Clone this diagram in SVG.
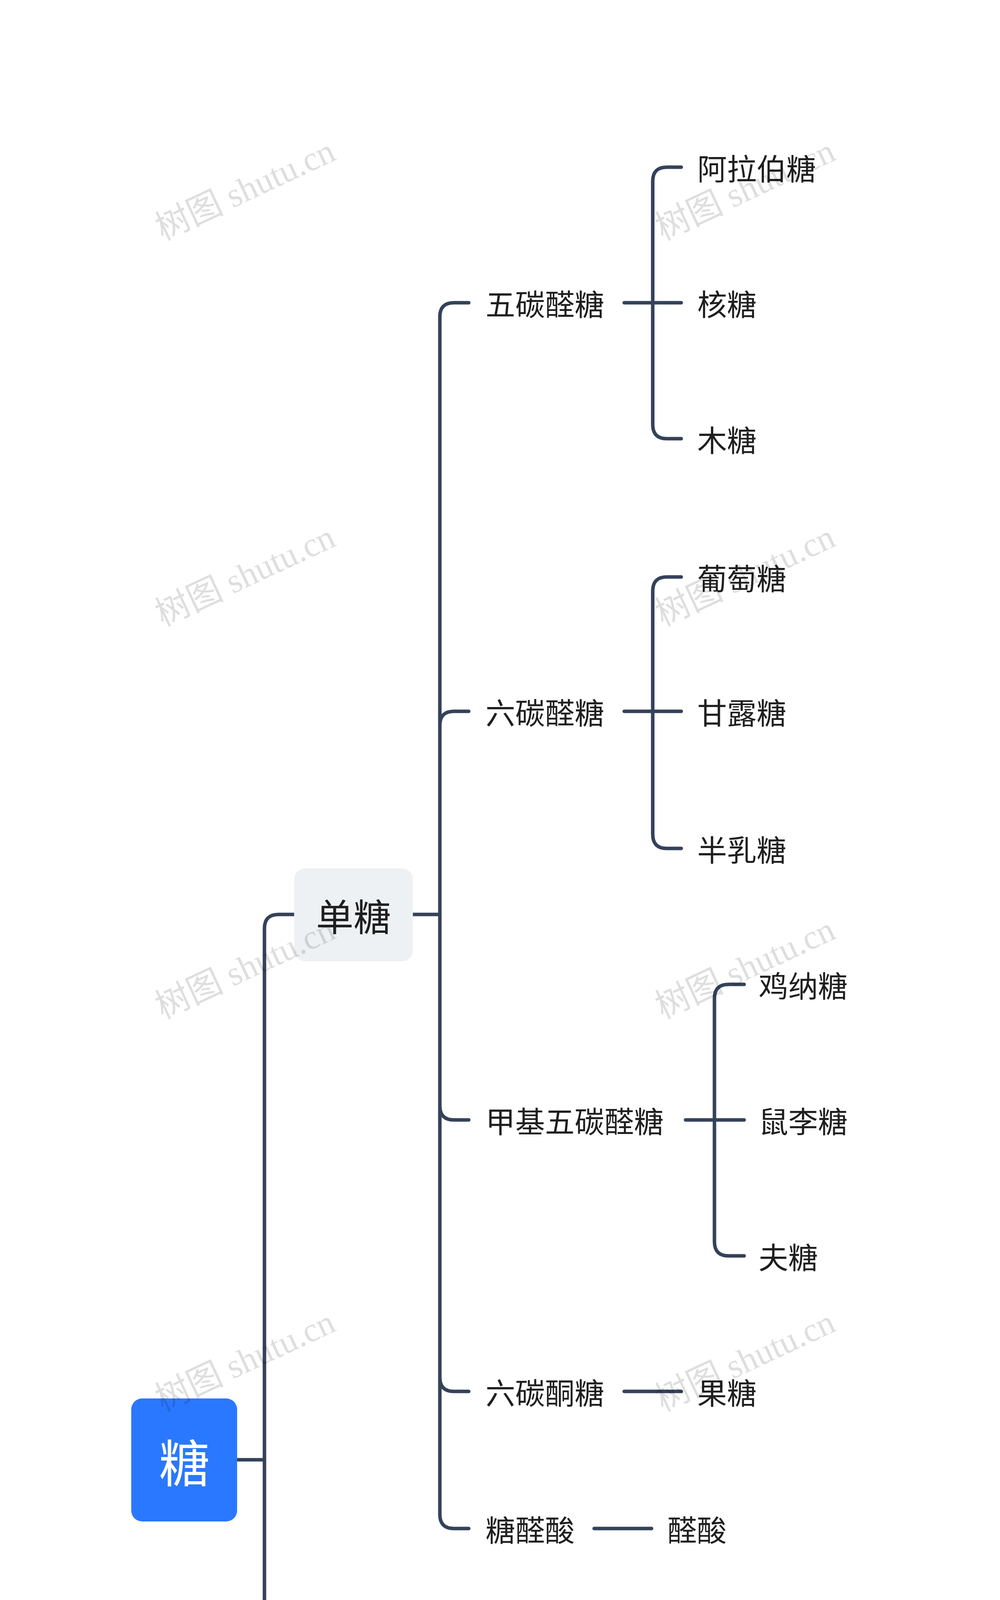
<svg xmlns="http://www.w3.org/2000/svg" width="2560" height="5751" viewBox="0 0 2560 5751">
<style>
.t{font-family:"Noto Sans CJK SC","Noto Sans",sans-serif;fill:#1f1f1f;dominant-baseline:central}
.l1{font-size:96px}.l2{font-size:76px}
.c{fill:none;stroke:#34425a;stroke-width:9;stroke-linecap:round}
.wm{font-family:"Liberation Serif","Noto Sans CJK SC",serif;font-size:88px;fill:#000;fill-opacity:0.13}
</style>
<rect width="2560" height="5751" fill="#fff"/>
<g id="connectors" class="c">
<path d="M607 3737H677M677 3737V2377Q677 2341 713 2341H753M677 3737V4396Q677 4432 713 4432H753M677 3737V5095Q677 5131 713 5131H753"/>
<path d="M1057 2341H1126M1126 2341V811Q1126 775 1162 775H1200M1126 2341V1857Q1126 1821 1162 1821H1200M1126 2341V2831Q1126 2867 1162 2867H1200M1126 2341V3526Q1126 3562 1162 3562H1200M1126 2341V3877Q1126 3913 1162 3913H1200"/>
<path d="M1598 775H1744M1671 775V464Q1671 428 1707 428H1744M1671 775V1087Q1671 1123 1707 1123H1744"/>
<path d="M1598 1821H1744M1671 1821V1513Q1671 1477 1707 1477H1744M1671 1821V2136Q1671 2172 1707 2172H1744"/>
<path d="M1755 2867H1905M1829 2867V2556Q1829 2520 1865 2520H1905M1829 2867V3179Q1829 3215 1865 3215H1905"/>
<path d="M1598 3562H1744M1521 3913H1668"/>
<path d="M1159 4432H1229M1229 4432V4296Q1229 4260 1265 4260H1305M1229 4432V4572Q1229 4608 1265 4608H1305"/>
<path d="M1057 5131H1126M1126 5131V4995Q1126 4959 1162 4959H1200M1126 5131V5270Q1126 5306 1162 5306H1200"/>
</g>
<g id="root"><rect x="336" y="3580" width="271" height="315" rx="28" fill="#2a78ff"/><text class="t" x="472" y="3737" font-size="130" text-anchor="middle" style="fill:#fff">糖</text></g>
<g id="n-dan"><rect x="753" y="2223" width="304" height="238" rx="28" fill="#eef1f4"/><text class="t l1" x="905" y="2341" text-anchor="middle">单糖</text></g>
<g id="n-diju"><rect x="753" y="4315" width="406" height="238" rx="28" fill="#eef1f4"/><text class="t l1" x="956" y="4432" text-anchor="middle">低聚糖</text></g>
<g id="n-duo"><rect x="753" y="5014" width="304" height="238" rx="28" fill="#eef1f4"/><text class="t l1" x="905" y="5131" text-anchor="middle">多糖</text></g>
<g id="n1"><text class="t l2" x="1243" y="775">五碳醛糖</text></g>
<g id="n2"><text class="t l2" x="1243" y="1821">六碳醛糖</text></g>
<g id="n3"><text class="t l2" x="1243" y="2867">甲基五碳醛糖</text></g>
<g id="n4"><text class="t l2" x="1243" y="3562">六碳酮糖</text></g>
<g id="n5"><text class="t l2" x="1243" y="3913">糖醛酸</text></g>
<g id="n11"><text class="t l2" x="1785" y="428">阿拉伯糖</text></g>
<g id="n12"><text class="t l2" x="1785" y="775">核糖</text></g>
<g id="n13"><text class="t l2" x="1785" y="1123">木糖</text></g>
<g id="n21"><text class="t l2" x="1785" y="1477">葡萄糖</text></g>
<g id="n22"><text class="t l2" x="1785" y="1821">甘露糖</text></g>
<g id="n23"><text class="t l2" x="1785" y="2172">半乳糖</text></g>
<g id="n31"><text class="t l2" x="1942" y="2520">鸡纳糖</text></g>
<g id="n32"><text class="t l2" x="1942" y="2867">鼠李糖</text></g>
<g id="n33"><text class="t l2" x="1942" y="3215">夫糖</text></g>
<g id="n41"><text class="t l2" x="1785" y="3562">果糖</text></g>
<g id="n51"><text class="t l2" x="1708" y="3913">醛酸</text></g>
<g id="n61"><text class="t l2" x="1342" y="4260">蔗糖</text></g>
<g id="n62"><text class="t l2" x="1342" y="4608">麦芽糖</text></g>
<g id="n71"><text class="t l2" x="1243" y="4959">纤维素</text></g>
<g id="n72"><text class="t l2" x="1243" y="5306">淀粉</text></g>
<g id="watermarks">
<text class="wm" transform="translate(640 512) rotate(-25)" text-anchor="middle">树图 shutu.cn</text>
<text class="wm" transform="translate(1920 512) rotate(-25)" text-anchor="middle">树图 shutu.cn</text>
<text class="wm" transform="translate(640 1500) rotate(-25)" text-anchor="middle">树图 shutu.cn</text>
<text class="wm" transform="translate(1920 1500) rotate(-25)" text-anchor="middle">树图 shutu.cn</text>
<text class="wm" transform="translate(640 2505) rotate(-25)" text-anchor="middle">树图 shutu.cn</text>
<text class="wm" transform="translate(1920 2505) rotate(-25)" text-anchor="middle">树图 shutu.cn</text>
<text class="wm" transform="translate(640 3510) rotate(-25)" text-anchor="middle">树图 shutu.cn</text>
<text class="wm" transform="translate(1920 3510) rotate(-25)" text-anchor="middle">树图 shutu.cn</text>
<text class="wm" transform="translate(640 4500) rotate(-25)" text-anchor="middle">树图 shutu.cn</text>
<text class="wm" transform="translate(1920 4500) rotate(-25)" text-anchor="middle">树图 shutu.cn</text>
<text class="wm" transform="translate(640 5505) rotate(-25)" text-anchor="middle">树图 shutu.cn</text>
<text class="wm" transform="translate(1920 5505) rotate(-25)" text-anchor="middle">树图 shutu.cn</text>
</g>
</svg>
